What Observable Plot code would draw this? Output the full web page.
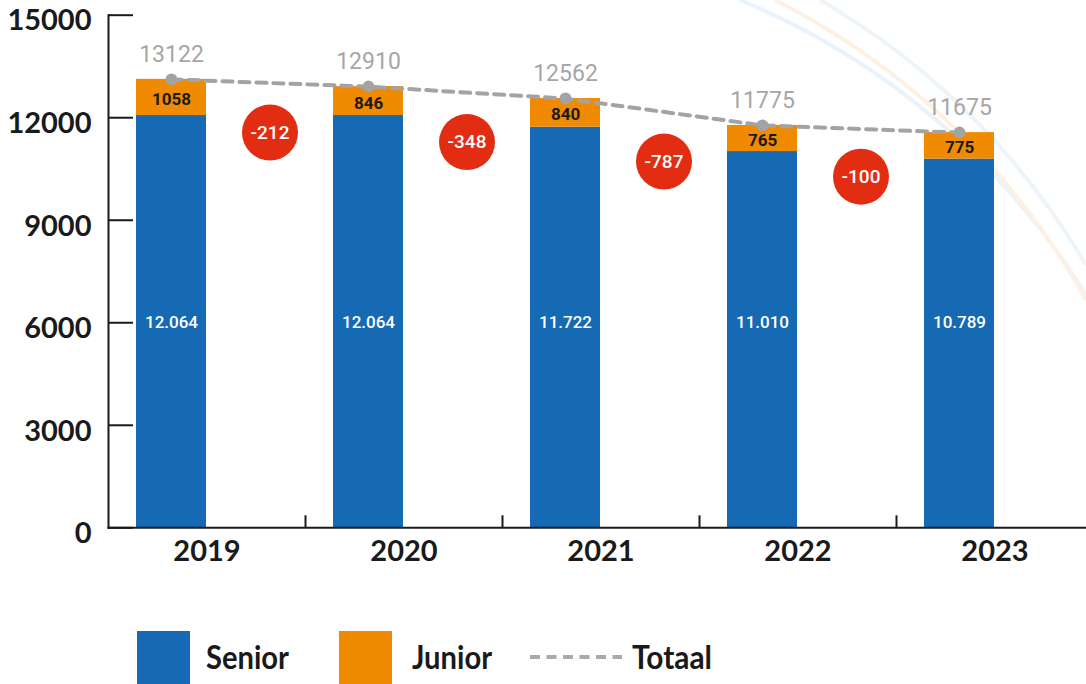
<!DOCTYPE html>
<html><head><meta charset="utf-8">
<script src="https://cdn.jsdelivr.net/npm/d3@7"></script>
<script src="https://cdn.jsdelivr.net/npm/@observablehq/plot@0.6"></script>
<style>
html,body{margin:0;padding:0;background:#fff;overflow:hidden;width:1086px;height:684px}
#wrap{position:relative;width:1086px;height:684px}
#bg,#chart,#legend{position:absolute;left:0;top:0}
</style></head><body>
<div id="wrap">
<svg id="bg" width="1086" height="684">
  <path d="M740,0 A736,736 0 0,1 1086,295" fill="none" stroke="#eaf3fb" stroke-width="4"/>
  <path d="M775,0 A736,736 0 0,1 1086,300" fill="none" stroke="#fdf1e3" stroke-width="4"/>
  <path d="M820,0 A736,736 0 0,1 1086,265" fill="none" stroke="#edf4fa" stroke-width="4"/>
</svg>
<div id="chart"></div>
<svg id="legend" width="1086" height="684" style="pointer-events:none"></svg>
</div>
<script>
const years = ["2019","2020","2021","2022","2023"];
const senior = [12064, 12064, 11722, 11010, 10789];
const junior = [1058, 846, 840, 765, 775];
const totaal = [13122, 12910, 12562, 11775, 11675];
const seniorLabels = ["12.064","12.064","11.722","11.010","10.789"];
const verschil = [-212, -348, -787, -100];
const yTicks = [0, 3000, 6000, 9000, 12000, 15000];

const BLUE = "#1669b3", ORANGE = "#f08a00", RED = "#e32d12", GRAY = "#a3a3a3", INK = "#1a1a1a";
const W = 1086, H = 610, MT = 14.7, MB = H - 527.3, ML = 108;
const BAR_DX = -35.5, GAP_DX = 63;

const rows = years.map((y, i) => ({year: y, senior: senior[i], junior: junior[i], totaal: totaal[i], top: senior[i] + junior[i], sLabel: seniorLabels[i]}));
const stacked = years.flatMap((y, i) => [
  {year: y, type: "Senior", value: senior[i]},
  {year: y, type: "Junior", value: junior[i]}
]);
const diffs = verschil.map((v, i) => ({year: years[i], value: v, y: (totaal[i] + totaal[i + 1]) / 2 - 1450}));

const chart = Plot.plot({
  width: W, height: H,
  marginTop: MT, marginBottom: MB, marginLeft: ML, marginRight: 0,
  style: {background: "transparent", overflow: "visible"},
  x: {type: "band", domain: years, range: [108, 1093], padding: 0, axis: null},
  y: {domain: [0, 15000], axis: null},
  color: {domain: ["Senior", "Junior"], range: [BLUE, ORANGE]},
  marks: [
    Plot.barY(stacked, {x: "year", y: "value", fill: "type", order: ["Senior", "Junior"], insetLeft: 28, insetRight: 99}),
    Plot.ruleY(yTicks, {y: d => d, insetRight: W - ML - 25, stroke: INK, strokeWidth: 2}),
    Plot.ruleX(years.slice(0, 4), {x: d => d, dx: 98.5, insetTop: 527.3 - MT - 12, stroke: INK, strokeWidth: 2}),
    Plot.frame({anchor: "left", stroke: INK, strokeWidth: 2}),
    Plot.frame({anchor: "bottom", stroke: INK, strokeWidth: 2}),
    Plot.axisY(yTicks, {tickSize: 0, tickPadding: 17, tickFormat: d => String(d), label: null, fontSize: 29, fontWeight: 700, fontFamily: "Lato", fill: INK, dy: 6}),
    Plot.text(years, {x: d => d, frameAnchor: "bottom", dy: 33, text: d => d, fontSize: 29, fontWeight: 700, fontFamily: "Lato", fill: INK}),
    Plot.line(rows, {x: "year", y: "top", stroke: GRAY, strokeWidth: 4, strokeDasharray: "10 7", dx: BAR_DX}),
    Plot.dot(rows, {x: "year", y: "top", r: 6, fill: GRAY, stroke: null, dx: BAR_DX}),
    Plot.text(rows, {x: "year", y: "top", text: d => String(d.totaal), dx: BAR_DX, dy: -25, fontSize: 23, fontFamily: "Roboto", fill: "#a6a6a6"}),
    Plot.text(rows, {x: "year", y: d => d.senior + d.junior / 2, text: d => String(d.junior), dx: BAR_DX, dy: 2, fontSize: 17, fontWeight: 700, fontFamily: "Roboto", fill: INK}),
    Plot.text(rows, {x: "year", y: () => 6000, text: "sLabel", dx: BAR_DX, fontSize: 17, fontWeight: 500, fontFamily: "Roboto", fill: "#ffffff"}),
    Plot.dot(diffs, {x: "year", y: "y", r: 28, fill: RED, stroke: null, dx: GAP_DX}),
    Plot.text(diffs, {x: "year", y: "y", text: d => String(d.value), dx: GAP_DX, fontSize: 19, fontWeight: 500, fontFamily: "Roboto", fill: "#ffffff"})
  ]
});
document.getElementById("chart").appendChild(chart);

// Legend below the plot
const lg = d3.select("#legend");
const items = [
  {label: "Senior", color: BLUE, sx: 137, tx: 206, tl: 83},
  {label: "Junior", color: ORANGE, sx: 339, tx: 412, tl: 80}
];
items.forEach(it => {
  lg.append("rect").attr("x", it.sx).attr("y", 631).attr("width", 53).attr("height", 60).attr("fill", it.color);
  lg.append("text").attr("x", it.tx).attr("y", 669).attr("font-family", "Lato").attr("font-weight", 700)
    .attr("font-size", 32).attr("fill", INK).attr("textLength", it.tl).attr("lengthAdjust", "spacingAndGlyphs").text(it.label);
});
lg.append("line").attr("x1", 530).attr("x2", 622).attr("y1", 657).attr("y2", 657)
  .attr("stroke", "#aaaaaa").attr("stroke-width", 4).attr("stroke-dasharray", "10 6.5");
lg.append("text").attr("x", 632).attr("y", 669).attr("font-family", "Lato").attr("font-weight", 700)
  .attr("font-size", 32).attr("fill", INK).attr("textLength", 80).attr("lengthAdjust", "spacingAndGlyphs").text("Totaal");
</script>
</body></html>
